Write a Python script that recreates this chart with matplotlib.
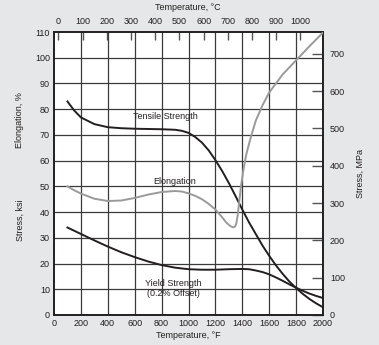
import matplotlib
matplotlib.use("Agg")
import matplotlib.pyplot as plt
import numpy as np

plt.rcParams['font.family'] = ['Liberation Sans', 'DejaVu Sans']

# Data (temperature in °F, stress in ksi, elongation in %)
tensile_T = [100, 150, 200, 300, 400, 500, 600, 700, 800, 900, 950, 1000, 1050, 1100, 1150, 1200, 1250, 1300, 1350, 1400, 1450, 1500, 1550, 1600, 1650, 1700, 1750, 1800, 1850, 1900, 1950, 2000]
tensile_v = [83, 79.5, 76.8, 74.2, 73.0, 72.6, 72.4, 72.3, 72.2, 72.0, 71.6, 70.8, 69.2, 67.0, 64.0, 60.2, 56.0, 51.3, 46.2, 41.0, 36.0, 31.5, 27.0, 23.0, 19.3, 16.0, 13.0, 10.5, 8.2, 6.2, 4.5, 3.0]

yield_T = [100, 200, 300, 400, 500, 600, 700, 800, 900, 1000, 1100, 1200, 1300, 1400, 1450, 1500, 1550, 1600, 1650, 1700, 1750, 1800, 1850, 1900, 1950, 2000]
yield_v = [34.0, 31.5, 29.0, 26.6, 24.4, 22.5, 20.8, 19.4, 18.4, 17.8, 17.6, 17.6, 17.8, 17.9, 17.8, 17.3, 16.7, 15.8, 14.6, 13.3, 11.9, 10.6, 9.4, 8.3, 7.4, 6.6]

elong_T = [100, 150, 200, 300, 400, 500, 600, 700, 800, 900, 950, 1000, 1050, 1100, 1150, 1200, 1250, 1280, 1310, 1330, 1345, 1355, 1365, 1375, 1390, 1410, 1430, 1460, 1500, 1550, 1600, 1700, 1800, 1900, 2000]
elong_v = [50.0, 48.5, 47.2, 45.2, 44.3, 44.5, 45.5, 46.8, 47.8, 48.2, 48.0, 47.3, 46.3, 45.0, 43.2, 41.0, 38.0, 36.0, 34.6, 34.1, 34.3, 35.5, 38.5, 43.0, 50.0, 57.0, 62.5, 68.5, 75.5, 81.5, 86.5, 93.5, 99.0, 104.5, 109.8]

x_ticks_F = [0, 200, 400, 600, 800, 1000, 1200, 1400, 1600, 1800, 2000]
y_ticks_ksi = [0, 10, 20, 30, 40, 50, 60, 70, 80, 90, 100, 110]
x_ticks_C = [0, 100, 200, 300, 400, 500, 600, 700, 800, 900, 1000]
y_ticks_MPa = [0, 100, 200, 300, 400, 500, 600, 700]

KSI_TO_MPA = 6.895

fig = plt.figure(figsize=(3.79, 3.45), dpi=100)
fig.patch.set_facecolor('#e6e7e8')
ax = fig.add_axes([54/379, 1 - 315/345, (323-54)/379, (315-32)/345])
ax.set_facecolor('white')

ax.set_xlim(0, 2000)
ax.set_ylim(0, 110)

# grid
for xv in x_ticks_F[1:-1]:
    ax.axvline(xv, color='#3a3a3a', lw=0.9, zorder=1)
for yv in y_ticks_ksi[1:-1]:
    ax.axhline(yv, color='#3a3a3a', lw=0.9, zorder=1)

ax.plot(tensile_T, tensile_v, color='#231f20', lw=1.4, zorder=3)
ax.plot(yield_T, yield_v, color='#231f20', lw=1.4, zorder=3)
ax.plot(elong_T, elong_v, color='#9a9a9a', lw=1.4, zorder=3)

tc = '#231f20'
fs = 6.5
ax.text(825, 77, 'Tensile Strength', fontsize=fs, ha='center', va='center', color=tc, zorder=4)
ax.text(900, 51.7, 'Elongation', fontsize=fs, ha='center', va='center', color=tc, zorder=4)
ax.text(885, 12.4, 'Yield Strength', fontsize=fs, ha='center', va='center', color=tc, zorder=4)
ax.text(885, 8.2, '(0.2% Offset)', fontsize=fs, ha='center', va='center', color=tc, zorder=4)

ax.set_xticks(x_ticks_F)
ax.set_yticks(y_ticks_ksi)
ax.tick_params(axis='both', length=0, labelsize=fs, labelcolor=tc, pad=3)
for s in ax.spines.values():
    s.set_linewidth(1.4)
    s.set_color('#231f20')

secx = ax.secondary_xaxis('top', functions=(lambda f: (f - 32) * 5 / 9, lambda c: c * 9 / 5 + 32))
secx.set_xticks(x_ticks_C)
secx.tick_params(direction='in', length=6, width=1.0, color='#555555', labelsize=fs, labelcolor=tc, pad=4)
secx.spines['top'].set_visible(False)

secy = ax.secondary_yaxis('right', functions=(lambda k: k * KSI_TO_MPA, lambda m: m / KSI_TO_MPA))
secy.set_yticks(y_ticks_MPa)
secy.tick_params(direction='in', length=8, width=1.0, color='#555555', labelsize=fs, labelcolor=tc, pad=5)
secy.spines['right'].set_visible(False)

fig.text(188/379, 1 - 336/345, 'Temperature, °F', fontsize=fs, ha='center', va='center', color=tc)
fig.text(188/379, 1 - 8/345, 'Temperature, °C', fontsize=fs, ha='center', va='center', color=tc)
fig.text(20/379, 1 - 120/345, 'Elongation, %', fontsize=fs, ha='center', va='center', rotation=90, color=tc)
fig.text(20/379, 1 - 220/345, 'Stress, ksi', fontsize=fs, ha='center', va='center', rotation=90, color=tc)
fig.text(360/379, 1 - 173/345, 'Stress, MPa', fontsize=fs, ha='center', va='center', rotation=90, color=tc)

fig.savefig('out.png', dpi=100, facecolor=fig.get_facecolor())
